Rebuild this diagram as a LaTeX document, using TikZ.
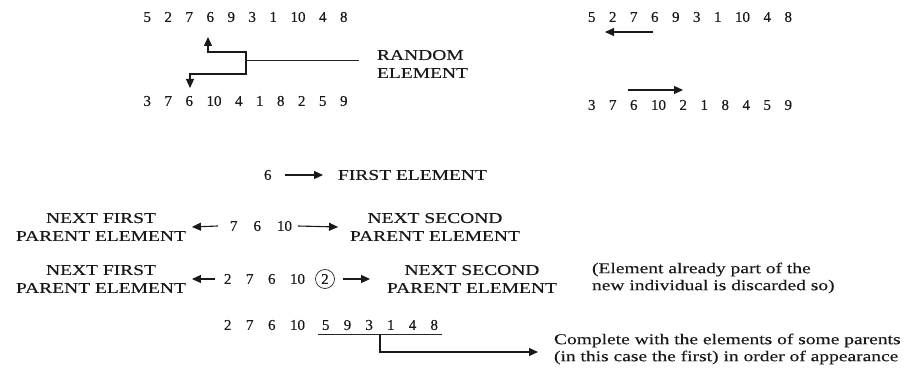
\documentclass[tikz,border=0pt]{standalone}
\usepackage{fontspec}
\setmainfont{Liberation Serif}[FakeBold=0.3]
\newfontfamily\widefont{Liberation Serif}[FakeStretch=1.3,FakeBold=0.3]
\usetikzlibrary{arrows.meta,calc}
\begin{document}
\begin{tikzpicture}[x=1pt,y=-1pt,
  every node/.style={inner sep=0pt,outer sep=0pt,text=black!90},
  seq/.style={font={\fontsize{15}{18}\selectfont\spaceskip=#1\relax}, anchor=west},
  seq/.default=13.5pt,
  wlbl/.style={font={\widefont\fontsize{15}{18}\selectfont}, align=center},
  note/.style={font={\widefont\fontsize{15}{17}\selectfont}, align=left, anchor=west},
  link/.style={line width=1pt,draw=black!85},
  arr/.style={line width=1.1pt,draw=black!90,-{Triangle[length=9pt,width=8pt]}}
]
\useasboundingbox (0,0) rectangle (915,374);

% ---- top left: two parents and random element
\node[seq] (r1l) at (143.5,17) {5 2 7 6 9 3 1 10 4 8};
\node[seq] (r2l) at (143.5,101) {3 7 6 10 4 1 8 2 5 9};
\node[wlbl, anchor=west, align=left] (rand) at (377,64) {RANDOM\\ELEMENT};
\coordinate (brk) at (246,61);
\coordinate (brkT) at (246,52);
\coordinate (brkB) at (246,74);
\coordinate (upTip) at (208,37);
\coordinate (dnTip) at (190,88);
\coordinate (randEnd) at (359,61);
\draw[link] (brk) -- (randEnd);
\draw[arr] (brk) -- (brkT) -| (upTip);
\draw[arr] (brk) -- (brkB) -| (dnTip);

% ---- top right
\node[seq] (r1r) at (588,17) {5 2 7 6 9 3 1 10 4 8};
\node[seq] (r2r) at (588,105) {3 7 6 10 2 1 8 4 5 9};
\coordinate (la0) at (653,32);
\coordinate (la1) at (605,32);
\coordinate (ra0) at (628,90);
\coordinate (ra1) at (683,90);
\draw[arr] (la0) -- (la1);
\draw[arr] (ra0) -- (ra1);

% ---- first element
\node[seq] (six) at (264,175) {6};
\node[wlbl, anchor=west] (first) at (338,175) {FIRST ELEMENT};
\draw[arr] ($(six.east)+(13,0)$) -- ($(first.west)+(-15,0)$);

% ---- row 3
\node[wlbl] (nf1) at (101,227) {NEXT FIRST\\PARENT ELEMENT};
\node[seq=16pt] (r3) at (230,226) {7 6 10};
\node[wlbl] (ns1) at (435,227) {NEXT SECOND\\PARENT ELEMENT};
\draw[arr] ($(r3.west)+(-12,0)$) -- ($(nf1.east)+(6,0)$);
\draw[arr] ($(r3.east)+(6,0)$) -- ($(ns1.west)+(-12,0)$);

% ---- row 4
\node[wlbl] (nf2) at (101,279) {NEXT FIRST\\PARENT ELEMENT};
\node[seq=14.5pt] (r4) at (224,279) {2 7 6 10};
\node[circle, draw=black!85, line width=0.7pt, minimum size=19pt,
      font=\fontsize{15}{18}\selectfont] (c2) at (325,279) {2};
\node[wlbl] (ns2) at (472,279) {NEXT SECOND\\PARENT ELEMENT};
\node[note] (nt) at (592,278) {(Element already part of the\\new individual is discarded so)};
\draw[arr] ($(r4.west)+(-9,0)$) -- ($(nf2.east)+(6,0)$);
\draw[arr] ($(c2.east)+(8,0)$) -- ($(ns2.west)+(-17,0)$);

% ---- row 5
\node[seq=14.5pt] (r5a) at (224,325) {2 7 6 10};
\node[seq=14.2pt] (r5b) at (322,325) {5 9 3 1 4 8};
\coordinate (ul0) at (318,334);
\coordinate (ul1) at (442,334);
\coordinate (ulm) at (380,334);
\node[note] (cmp) at (554,349) {Complete with the elements of some parents\\(in this case the first) in order of appearance};
\draw[link] (ul0) -- (ul1);
\draw[arr] (ulm) |- ($(cmp.west)+(-16,3)$);
\end{tikzpicture}
\end{document}
